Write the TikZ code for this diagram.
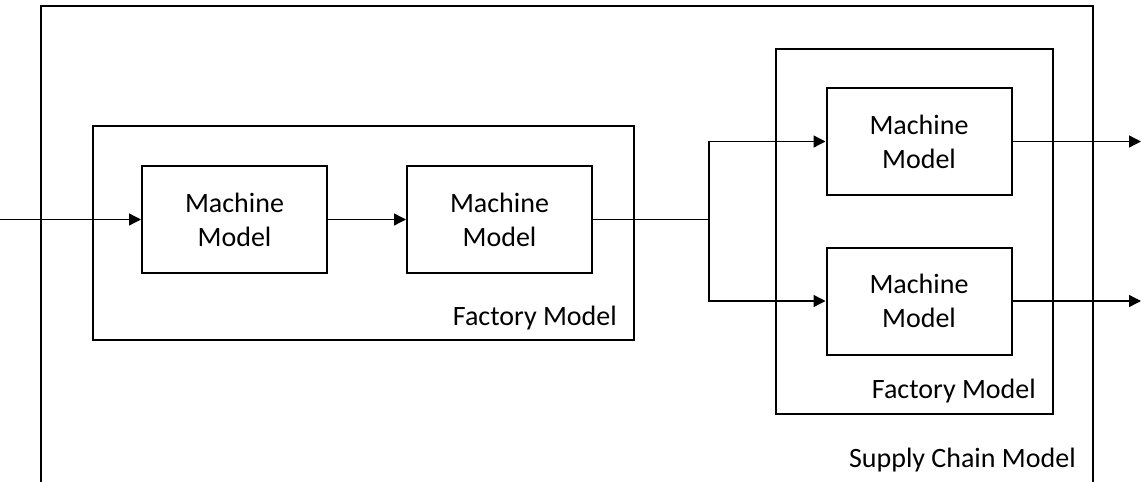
\documentclass[tikz,border=0pt]{standalone}
\usepackage{fontspec}
\setmainfont{Carlito}
\usetikzlibrary{arrows.meta}
\begin{document}
\begin{tikzpicture}[x=1pt, y=-1pt,
	txt/.style={font=\fontsize{28}{34}\selectfont},
	machine/.style={txt, draw, line width=2pt, minimum width=185pt, minimum height=107pt, align=center, inner sep=0pt},
	frame/.style={line width=2pt},
	link/.style={line width=1.3pt},
	arr/.style={link, -{Triangle[length=12pt,width=12pt]}},
	lbl/.style={txt, anchor=base east, inner sep=0pt}]
	\useasboundingbox (0,0) rectangle (1141,482);
	% supply chain and factory frames
	\draw[frame] (41,482) -- (41,6) -- (1093,6) -- (1093,482);
	\draw[frame] (93,126) rectangle (634,340);
	\draw[frame] (776,49) rectangle (1053,414);
	\node[lbl] (sclabel) at (1076,467) {Supply Chain Model};
	\node[lbl] (f1label) at (617,325) {Factory Model};
	\node[lbl] (f2label) at (1036,398) {Factory Model};
	% machines
	\node[machine] (m1) at (234.5,219.5) {Machine\\Model};
	\node[machine] (m2) at (499.5,219.5) {Machine\\Model};
	\node[machine] (m3) at (919,141.5) {Machine\\Model};
	\node[machine] (m4) at (919,301) {Machine\\Model};
	\coordinate (in) at (0,219.5);
	\coordinate (split) at (709,219.5);
	\coordinate (out3) at (1141,141.5);
	\coordinate (out4) at (1141,301);
	% flow
	\draw[arr] (in) -- (m1);
	\draw[arr] (m1) -- (m2);
	\draw[link] (m2.east) -- (split);
	\draw[arr] (split) |- (m3.west);
	\draw[arr] (split) |- (m4.west);
	\draw[arr] (m3) -- (out3);
	\draw[arr] (m4) -- (out4);
\end{tikzpicture}
\end{document}
